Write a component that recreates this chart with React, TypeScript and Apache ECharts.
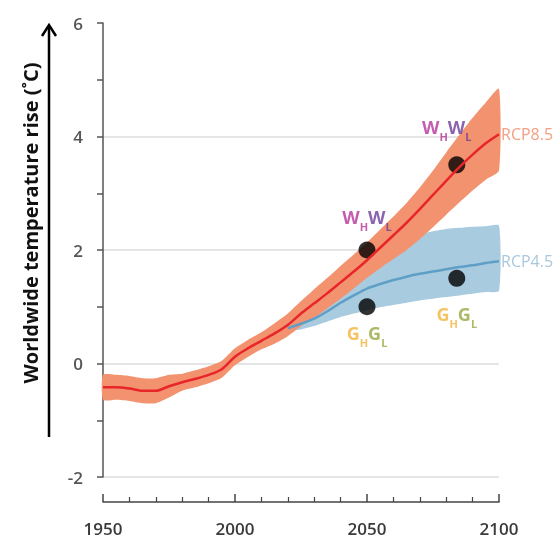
import React, { useEffect, useRef } from 'react';
import * as echarts from 'echarts';

const years = [1950, 1955, 1960, 1965, 1970, 1975, 1980, 1985, 1990, 1995, 2000, 2005, 2010, 2015, 2020, 2025, 2030, 2035, 2040, 2045, 2050, 2055, 2060, 2065, 2070, 2075, 2080, 2085, 2090, 2095, 2100];
const rcp85 = [-0.42, -0.42, -0.44, -0.48, -0.48, -0.40, -0.33, -0.27, -0.20, -0.10, 0.12, 0.27, 0.40, 0.53, 0.68, 0.88, 1.06, 1.24, 1.43, 1.62, 1.82, 2.04, 2.26, 2.48, 2.72, 2.97, 3.22, 3.46, 3.68, 3.88, 4.04];
const rcp85Upper = [-0.20, -0.20, -0.22, -0.26, -0.26, -0.20, -0.18, -0.12, -0.05, 0.05, 0.27, 0.42, 0.55, 0.71, 0.88, 1.10, 1.31, 1.51, 1.72, 1.92, 2.13, 2.36, 2.59, 2.83, 3.10, 3.40, 3.72, 4.03, 4.33, 4.60, 4.84];
const rcp85Lower = [-0.64, -0.64, -0.66, -0.70, -0.70, -0.60, -0.48, -0.42, -0.35, -0.25, -0.03, 0.12, 0.25, 0.35, 0.48, 0.66, 0.81, 0.97, 1.14, 1.32, 1.51, 1.68, 1.84, 2.00, 2.19, 2.40, 2.62, 2.84, 3.05, 3.24, 3.40];

const years45 = [2020, 2025, 2030, 2035, 2040, 2045, 2050, 2055, 2060, 2065, 2070, 2075, 2080, 2085, 2090, 2095, 2100];
const rcp45 = [0.62, 0.70, 0.79, 0.92, 1.07, 1.20, 1.32, 1.40, 1.47, 1.53, 1.58, 1.62, 1.66, 1.70, 1.73, 1.77, 1.80];
const rcp45Upper = [0.66, 0.85, 1.08, 1.32, 1.56, 1.78, 1.95, 2.06, 2.15, 2.22, 2.28, 2.33, 2.37, 2.39, 2.41, 2.42, 2.43];
const rcp45Lower = [0.58, 0.60, 0.66, 0.74, 0.82, 0.88, 0.94, 0.99, 1.03, 1.07, 1.11, 1.14, 1.17, 1.20, 1.23, 1.26, 1.28];

const dotYears = [2050, 2084, 2050, 2084];
const dotValues = [2.0, 3.5, 1.0, 1.5];
const dotLetters = ['W', 'W', 'G', 'G'];

const seriesNames = ['RCP8.5', 'RCP4.5'];
const yTitle = 'Worldwide temperature rise (˚C)';

const FONT = '"Open Sans", "Noto Sans", sans-serif';

function band(xs: number[], lo: number[], hi: number[], color: string) {
  return {
    type: 'custom',
    silent: true,
    data: xs.map((x, i) => [x, lo[i], hi[i]]),
    encode: { x: 0, y: [1, 2] },
    renderItem: (params: any, api: any) => {
      if (params.dataIndex !== 0) return null;
      const pts: number[][] = [];
      for (let i = 0; i < xs.length; i++) pts.push(api.coord([xs[i], hi[i]]));
      for (let i = xs.length - 1; i >= 0; i--) pts.push(api.coord([xs[i], lo[i]]));
      return { type: 'polygon', shape: { points: pts, smooth: 0.2 }, style: { fill: color } };
    },
  };
}

function big(color: string) {
  return { color, fontSize: 18, fontWeight: 700, fontFamily: FONT, lineHeight: 18, verticalAlign: 'top' };
}
function sub(color: string) {
  return { color, fontSize: 11, fontWeight: 700, fontFamily: FONT, lineHeight: 24, verticalAlign: 'bottom' };
}

const richStyles = {
  wh: big('#b5339b'),
  wl: big('#6e3d98'),
  sh: sub('#b5339b'),
  sl: sub('#6e3d98'),
  gh: big('#f2b43a'),
  gl: big('#97a83e'),
  ghs: sub('#f2b43a'),
  gls: sub('#97a83e'),
};

export default function App() {
  const ref = useRef<HTMLDivElement>(null);
  useEffect(() => {
    if (!ref.current) return;
    const chart = echarts.init(ref.current, null, { renderer: 'svg' });
    const dots = dotYears.map((x, i) => {
      const L = dotLetters[i];
      const isW = L === 'W';
      const text = isW ? '{wh|W}{sh|H}{wl|W}{sl|L}' : '{gh|G}{ghs|H}{gl|G}{gls|L}';
      return {
        value: [x, dotValues[i]],
        label: {
          show: true,
          position: isW ? 'top' : 'bottom',
          distance: isW ? (i === 1 ? 14 : 10) : (i === 3 ? 18 : 9),
          offset: i === 1 ? [-10, 0] : [0, 0],
          formatter: text,
          rich: richStyles,
        },
      };
    });
    chart.setOption({
      animation: false,
      grid: { left: 103, right: 59, top: 23, bottom: 63, containLabel: false },
      xAxis: {
        type: 'value',
        min: 1950,
        max: 2100,
        interval: 50,
        offset: 25,
        axisLine: { show: true, onZero: false, lineStyle: { color: '#444', width: 1.5 } },
        axisTick: { show: true, inside: true, length: 8, lineStyle: { color: '#444', width: 1.5 } },
        minorTick: { show: true, splitNumber: 5, length: 5, lineStyle: { color: '#444', width: 1.2 } },
        axisLabel: { color: '#3a3a3a', fontSize: 17, fontWeight: 600, fontFamily: FONT, margin: 18, formatter: (v: number) => String(v) },
        splitLine: { show: false },
      },
      yAxis: {
        type: 'value',
        min: -2,
        max: 6,
        interval: 2,
        axisLine: { show: true, onZero: false, lineStyle: { color: '#555', width: 1.5 } },
        axisTick: { show: true, length: 6, lineStyle: { color: '#555', width: 1.5 } },
        minorTick: { show: true, splitNumber: 2, length: 6, lineStyle: { color: '#555', width: 1.5 } },
        axisLabel: { color: '#555', fontSize: 17, fontWeight: 600, fontFamily: FONT, margin: 20 },
        splitLine: { show: true, lineStyle: { color: ['#dcdcdc', '#dcdcdc', '#dcdcdc', '#dcdcdc', 'rgba(0,0,0,0)'], width: 1.5 } },
      },
      series: [
        band(years45, rcp45Lower, rcp45Upper, '#a9cbe0'),
        {
          type: 'line',
          name: seriesNames[1],
          data: years45.map((x, i) => [x, rcp45[i]]),
          showSymbol: false,
          smooth: 0.3,
          lineStyle: { color: '#5f9fc6', width: 2.5 },
          endLabel: { show: true, formatter: seriesNames[1], color: '#a9c8dc', fontSize: 16, fontFamily: FONT, distance: 2 },
        },
        band(years, rcp85Lower, rcp85Upper, '#f3926f'),
        {
          type: 'line',
          name: seriesNames[0],
          data: years.map((x, i) => [x, rcp85[i]]),
          showSymbol: false,
          smooth: 0.3,
          lineStyle: { color: '#e8262a', width: 2.5 },
          endLabel: { show: true, formatter: seriesNames[0], color: '#f3a083', fontSize: 16, fontFamily: FONT, distance: 2 },
        },
        {
          type: 'scatter',
          symbolSize: 17,
          itemStyle: { color: '#000' },
          data: dots,
        },
      ],
      graphic: [
        {
          type: 'text',
          x: 30,
          y: 223,
          rotation: Math.PI / 2,
          style: { text: yTitle, fontSize: 20, fontWeight: 700, fontFamily: FONT, fill: '#111', align: 'center', verticalAlign: 'middle' },
        },
        { type: 'line', shape: { x1: 49, y1: 437, x2: 49, y2: 26 }, style: { stroke: '#000', lineWidth: 2.5 } },
        { type: 'polyline', shape: { points: [[42, 36], [49, 25], [56, 36]] }, style: { stroke: '#000', lineWidth: 2.5, fill: 'none' } },
      ],
    });
    return () => chart.dispose();
  }, []);
  return <div ref={ref} style={{ position: 'fixed', left: 0, top: 0, width: 558, height: 540 }} />;
}
